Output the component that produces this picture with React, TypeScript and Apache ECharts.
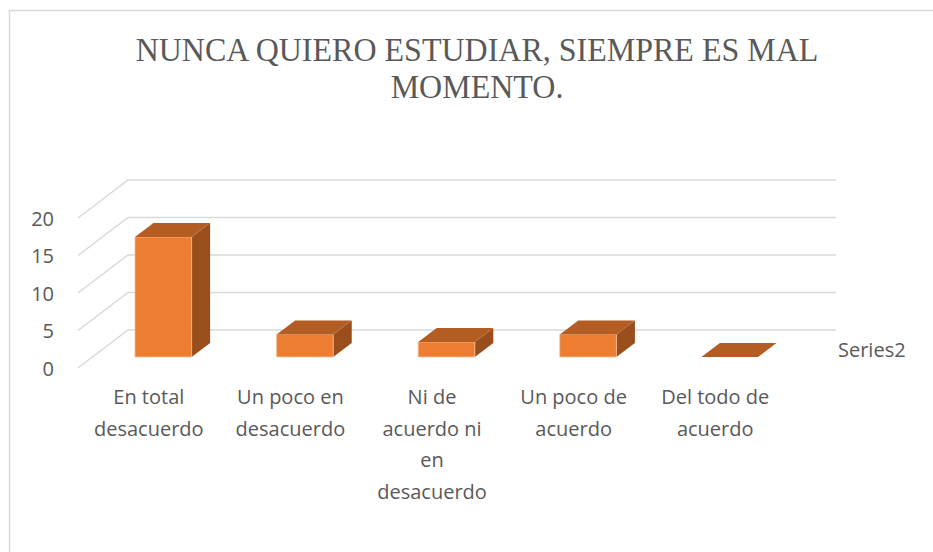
import React, { useEffect, useRef } from 'react';
import * as echarts from 'echarts';

// ---- data ----
const categories = [
  'En total\ndesacuerdo',
  'Un poco en\ndesacuerdo',
  'Ni de\nacuerdo ni\nen\ndesacuerdo',
  'Un poco de\nacuerdo',
  'Del todo de\nacuerdo',
];
const seriesName = 'Series2';
const values = [16, 3, 2, 3, 0];
const yTicks = [0, 5, 10, 15, 20];
const titleText = 'NUNCA QUIERO ESTUDIAR, SIEMPRE ES MAL\nMOMENTO.';

// ---- 3D look ----
const DX = 50;
const DY = -38;
const BAR_START = 0.29;
const BAR_DEPTH = 0.37;
const FRONT = '#ED7D31';
const TOP = '#B45D23';
const SIDE = '#9A4E1C';
const GRID = '#D9D9D9';
const TEXT = '#595959';
const SANS = '"Open Sans", "Noto Sans", sans-serif';

export default function App() {
  const ref = useRef<HTMLDivElement>(null);
  useEffect(() => {
    if (!ref.current) return;
    const chart = echarts.init(ref.current, undefined, { renderer: 'svg' });
    chart.setOption({
      animation: false,
      backgroundColor: '#ffffff',
      grid: { left: 78, top: 218, width: 708, height: 150 },
      legend: {
        data: [seriesName],
        icon: 'none',
        itemWidth: 0,
        itemHeight: 0,
        itemGap: 0,
        padding: 0,
        left: 833,
        top: 339,
        selectedMode: false,
        textStyle: { color: TEXT, fontSize: 20, fontFamily: SANS },
      },
      graphic: [
        {
          type: 'rect',
          silent: true,
          shape: { x: 9.5, y: 10.5, width: 1200, height: 1200 },
          style: { fill: 'none', stroke: GRID, lineWidth: 1.5 },
        },
        {
          type: 'text',
          x: 477,
          y: 31,
          scaleX: 0.97,
          silent: true,
          style: {
            text: titleText,
            fill: TEXT,
            font: '33px "Liberation Serif", "Times New Roman", serif',
            lineHeight: 37,
            align: 'center',
            verticalAlign: 'top',
          },
        },
      ],
      xAxis: {
        type: 'category',
        data: categories,
        axisLine: { show: false },
        axisTick: { show: false },
        splitLine: { show: false },
        axisLabel: {
          interval: 0,
          margin: 13,
          color: TEXT,
          fontSize: 20,
          fontFamily: SANS,
          lineHeight: 31.5,
          align: 'center',
        },
      },
      yAxis: {
        type: 'value',
        min: 0,
        max: 20,
        interval: 5,
        axisLine: { show: false },
        axisTick: { show: false },
        splitLine: { show: false },
        axisLabel: { margin: 24, color: TEXT, fontSize: 20, fontFamily: SANS },
      },
      series: [
        {
          type: 'custom',
          name: 'grid',
          silent: true,
          clip: false,
          z: 1,
          data: yTicks.map((v) => [0, v]),
          encode: { x: 0, y: 1 },
          renderItem: (params: any, api: any) => {
            const cs = params.coordSys;
            const y = api.coord([0, api.value(1)])[1];
            const x0 = cs.x;
            const x1 = cs.x + cs.width;
            return {
              type: 'polyline',
              shape: { points: [[x0, y], [x0 + DX, y + DY], [x1 + DX, y + DY]] },
              style: { stroke: GRID, lineWidth: 1.5, fill: null },
            };
          },
        },
        {
          type: 'custom',
          name: seriesName,
          clip: false,
          z: 5,
          itemStyle: { color: FRONT },
          data: values.map((v, i) => [i, v]),
          encode: { x: 0, y: 1 },
          renderItem: (params: any, api: any) => {
            const idx = api.value(0);
            const v = api.value(1);
            const base = api.coord([idx, 0]);
            const topP = api.coord([idx, v]);
            const bw = api.size([1, 0])[0] * 0.4;
            const sx = DX * BAR_START;
            const sy = DY * BAR_START;
            const dx = DX * BAR_DEPTH;
            const dy = DY * BAR_DEPTH;
            const xl = base[0] - bw / 2 + sx;
            const xr = xl + bw;
            const yb = base[1] + sy;
            const yt = topP[1] + sy;
            const children: any[] = [];
            if (yb - yt > 0.5) {
              children.push({
                type: 'polygon',
                shape: { points: [[xr, yt], [xr + dx, yt + dy], [xr + dx, yb + dy], [xr, yb]] },
                style: { fill: SIDE },
              });
              children.push({
                type: 'rect',
                shape: { x: xl, y: yt, width: bw, height: yb - yt },
                style: { fill: FRONT, stroke: '#F6C09A', lineWidth: 0.8 },
              });
            }
            children.push({
              type: 'polygon',
              shape: { points: [[xl, yt], [xr, yt], [xr + dx, yt + dy], [xl + dx, yt + dy]] },
              style: { fill: TOP },
            });
            return { type: 'group', children };
          },
        },
      ],
    });
    return () => chart.dispose();
  }, []);
  return (
    <div
      ref={ref}
      style={{ position: 'fixed', left: 0, top: 0, width: 933, height: 552, background: '#fff' }}
    />
  );
}
